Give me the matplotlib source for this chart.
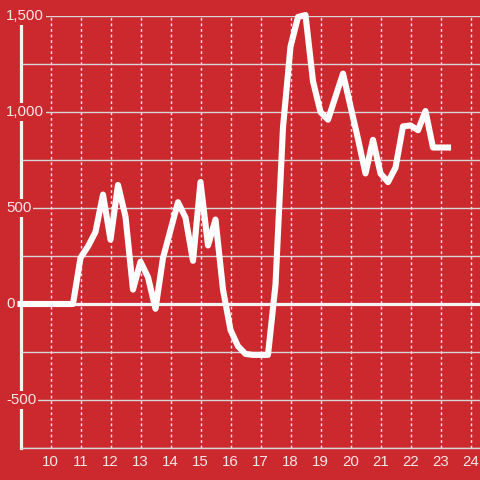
import matplotlib
matplotlib.use('Agg')
import matplotlib.pyplot as plt
from matplotlib.transforms import blended_transform_factory

# quarter-hour readings
hours = [9.0, 9.25, 9.5, 9.75, 10.0, 10.25, 10.5, 10.75,
         11.0, 11.25, 11.5, 11.75, 12.0, 12.25, 12.5, 12.75,
         13.0, 13.25, 13.5, 13.75, 14.0, 14.25, 14.5, 14.75,
         15.0, 15.25, 15.5, 15.75, 16.0, 16.25, 16.5, 16.75,
         17.0, 17.25, 17.5, 17.75, 18.0, 18.25, 18.5, 18.75,
         19.0, 19.25, 19.5, 19.75, 20.0, 20.25, 20.5, 20.75,
         21.0, 21.25, 21.5, 21.75, 22.0, 22.25, 22.5, 22.75,
         23.0, 23.25]
values = [0, 0, 0, 0, 0, 0, 0, 0,
          240, 300, 375, 570, 335, 620, 455, 75,
          220, 140, -25, 240, 385, 530, 450, 225,
          635, 305, 440, 75, -135, -220, -260, -265,
          -265, -265, 100, 920, 1340, 1495, 1505, 1160,
          1000, 960, 1080, 1200, 1030, 860, 680, 855,
          680, 635, 710, 925, 930, 905, 1005, 815,
          815, 815]

x_ticks = list(range(10, 25))
y_grid = [-750, -500, -250, 0, 250, 500, 750, 1000, 1250, 1500]
y_labels = {1500: '1,500', 1000: '1,000', 500: '500', 0: '0', -500: '-500'}

bg = '#cc292e'
txt = '#f8e6e6'
plt.rcParams['font.family'] = ['Liberation Sans', 'DejaVu Sans']

fig = plt.figure(figsize=(4.8, 4.8), dpi=100, facecolor=bg)
ax = fig.add_axes([20.5 / 480, 32 / 480, 459.5 / 480, 432 / 480])
ax.set_facecolor(bg)

ax.set_xlim(9, 9 + 459.5 / 30)
ax.set_ylim(-750, 1500)

ax.set_xticks(x_ticks)
ax.set_xticklabels([str(t) for t in x_ticks])
ax.set_yticks(y_grid)
ax.set_yticklabels([])
ax.tick_params(axis='both', length=0)
ax.tick_params(axis='x', colors=txt, labelsize=10.8, pad=5)

ax.grid(axis='y', color='#d6d6d6', lw=1.0, zorder=1)
ax.grid(axis='x', color='#ececec', lw=1.0, linestyle=(0, (2, 2)), zorder=1)
ax.set_axisbelow(True)

for s in ['top', 'right']:
    ax.spines[s].set_visible(False)
ax.spines['left'].set_color('#f4f4f4')
ax.spines['left'].set_linewidth(2.3)
ax.spines['bottom'].set_color('#d6d6d6')
ax.spines['bottom'].set_linewidth(1.0)

ax.axhline(0, color='#f4f4f4', lw=2.3, zorder=2)

ax.plot(hours, values, color='white', lw=4.4, zorder=4, clip_on=False,
        solid_capstyle='projecting')

trans = blended_transform_factory(fig.transFigure, ax.transData)
for v, lab in y_labels.items():
    ax.text(6 / 480, v, lab, transform=trans, ha='left', va='center',
            fontsize=10.8, color=txt, zorder=6, clip_on=False,
            bbox=dict(facecolor=bg, edgecolor='none', pad=1.5))

fig.savefig('out.png', dpi=100, facecolor=bg)
